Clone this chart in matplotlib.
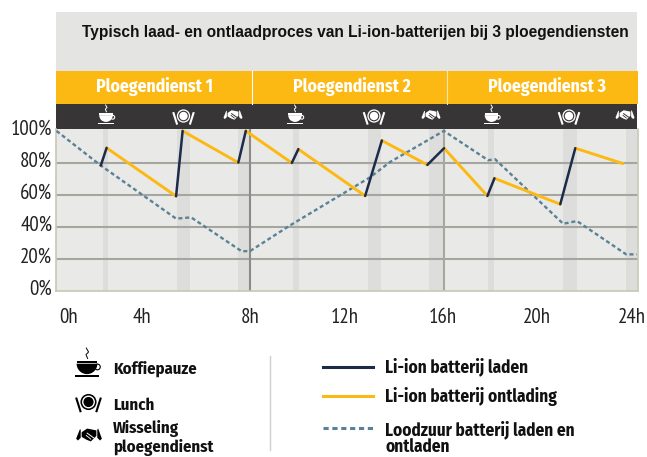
import matplotlib
matplotlib.use("Agg")
import matplotlib.pyplot as plt
from matplotlib.patches import Rectangle, Circle, Polygon, Wedge
from matplotlib.transforms import ScaledTranslation

NARROW = ['PT Sans Narrow', 'Archivo Narrow', 'Liberation Sans', 'DejaVu Sans']
COND_B = ['Fira Sans Condensed', 'Asap Condensed', 'Liberation Sans', 'DejaVu Sans']
W, H = 647, 457

title = "Typisch laad- en ontlaadproces van Li-ion-batterijen bij 3 ploegendiensten"
shifts = ["Ploegendienst 1", "Ploegendienst 2", "Ploegendienst 3"]
y_ticks = [0, 20, 40, 60, 80, 100]
y_labels = ["0%", "20%", "40%", "60%", "80%", "100%"]
x_label_pos = [0.48, 3.53, 8, 11.92, 15.97, 19.85, 23.78]
x_labels = ["0h", "4h", "8h", "12h", "16h", "20h", "24h"]

charge_t = [(1.83, 2.07), (4.94, 5.21), (7.51, 7.82), (9.72, 9.99), (12.75, 13.44), (15.32, 16.01), (17.80, 18.09), (20.81, 21.43)]
charge_v = [(78.4, 89.4), (59.2, 100), (80.2, 100), (80, 88.6), (59.4, 94), (78.8, 89.2), (59.4, 70.4), (54.2, 89.2)]
disch_t = [(2.07, 4.94), (5.21, 7.51), (7.82, 9.72), (9.99, 12.75), (13.44, 15.32), (16.01, 17.80), (18.09, 20.81), (21.43, 23.40)]
disch_v = [(89.4, 59.2), (100, 80.2), (100, 80), (88.6, 59.4), (94, 78.8), (89.2, 59.4), (70.4, 54.2), (89.2, 79.6)]
lead_t = [0, 1.83, 4.94, 5.56, 7.65, 8.0, 9.65, 12.95, 13.78, 16.0, 17.83, 18.12, 20.93, 21.5, 23.53, 23.97]
lead_v = [100, 78.4, 45.2, 46, 24.8, 25, 41, 71, 80.6, 100, 81.7, 82.3, 42, 43.7, 22.9, 22.9]

breaks = [(1.91, 2.14), (4.99, 5.52), (7.51, 8.0), (9.79, 10.02), (12.88, 13.4), (15.4, 16.0), (17.84, 18.09), (20.94, 21.5), (23.52, 23.97)]
break_kinds = ["coffee", "lunch", "hands"] * 3
icon_pos = [(106, 116), (183.5, 116), (233, 115), (295, 116), (374, 116), (431, 115), (491.5, 116), (569, 116), (625, 115)]

NAVY, YEL, LEAD = "#1C2B4A", "#FDB913", "#5B8196"
BAND = "#373536"

fig = plt.figure(figsize=(W / 100, H / 100), dpi=100, facecolor="white")

ov = fig.add_axes([0, 0, 1, 1], zorder=1)
ov.set_xlim(0, W); ov.set_ylim(H, 0); ov.axis("off")


def rect(x0, y0, x1, y1, c, **k):
    ov.add_patch(Rectangle((x0, y0), x1 - x0, y1 - y0, fc=c, ec="none", **k))


def coffee(cx, cy, c, bg, s=1.0):
    ov.add_patch(Wedge((cx, cy - 1 * s), 8 * s, 0, 180, fc=c, ec="none"))
    rect(cx - 8 * s, cy - 3 * s, cx + 8 * s, cy - 1.6 * s, c)
    rect(cx - 9 * s, cy + 8 * s, cx + 9 * s, cy + 9.3 * s, c)
    ov.add_patch(Circle((cx + 8 * s, cy + 1.5 * s), 2.2 * s, fc="none", ec=c, lw=0.8))
    ov.plot([cx - 0.5 * s, cx + 1.2 * s, cx - 0.8 * s, cx + 0.5 * s],
            [cy - 13 * s, cy - 10 * s, cy - 8 * s, cy - 5 * s], color=c, lw=0.7)


def lunch(cx, cy, c, bg, s=1.0):
    ov.add_patch(Circle((cx, cy), 7 * s, fc=c, ec="none"))
    ov.add_patch(Circle((cx, cy), 5.6 * s, fc=bg, ec="none"))
    ov.add_patch(Circle((cx, cy), 4.4 * s, fc=c, ec="none"))
    ov.plot([cx - 10.5 * s, cx - 7 * s], [cy - 3 * s, cy + 8 * s], color=c, lw=1.5)
    ov.plot([cx + 10.5 * s, cx + 7 * s], [cy - 3 * s, cy + 8 * s], color=c, lw=1.5)


def hands(cx, cy, c, bg, s=1.0):
    ov.add_patch(Polygon([(cx - 8 * s, cy - 3 * s), (cx - 2 * s, cy - 7 * s), (cx + 3 * s, cy - 6 * s),
                          (cx + 8 * s, cy - 5 * s), (cx + 8 * s, cy + 1 * s), (cx + 2 * s, cy + 7 * s),
                          (cx - 3 * s, cy + 5 * s), (cx - 8 * s, cy + 2 * s)], fc=c, ec="none"))
    ov.plot([cx - 2 * s, cx + 5 * s], [cy - 2 * s, cy + 3 * s], color=bg, lw=0.7)
    ov.plot([cx - 3 * s, cx + 2 * s], [cy + 0.5 * s, cy + 4.5 * s], color=bg, lw=0.6)
    ov.add_patch(Polygon([(cx - 14 * s, cy + 4 * s), (cx - 10 * s, cy - 6 * s), (cx - 9 * s, cy - 6 * s),
                          (cx - 9 * s, cy + 3 * s), (cx - 12 * s, cy + 6 * s)], fc=c, ec="none"))
    ov.add_patch(Polygon([(cx + 14 * s, cy + 4 * s), (cx + 10 * s, cy - 7 * s), (cx + 9 * s, cy - 6 * s),
                          (cx + 9 * s, cy + 3 * s), (cx + 12 * s, cy + 6 * s)], fc=c, ec="none"))


DRAW = {"coffee": coffee, "lunch": lunch, "hands": hands}
ICON_S = {"coffee": 0.85, "lunch": 0.95, "hands": 0.68}

rect(56, 12, 637, 71, "#E4E4E2")
rect(56, 71, 638, 104, YEL)
rect(56, 104, 637, 129, BAND)
ov.plot([251.5, 251.5], [71, 104], color="white", lw=0.8)
ov.plot([446.5, 446.5], [71, 104], color="#F5E6B8", lw=0.8)
ov.text(355.5, 32, title, ha="center", va="center", fontsize=11.2, fontweight="bold",
        family=['Liberation Sans'], color="#111111")
for t, xc in zip(shifts, [155, 352, 547]):
    ov.text(xc, 86, t, ha="center", va="center", fontsize=12.7, fontweight="bold", family=COND_B, color="white")
for k, (x, y) in zip(break_kinds, icon_pos):
    DRAW[k](x, y, "white", BAND, ICON_S[k])

ax = fig.add_axes([56.5 / W, 1 - 291 / H, 581 / W, 162 / H], zorder=2)
ax.set_xlim(0, 24.0)
ax.set_ylim(0, 101.2)
ax.set_facecolor("#E9E9E7")
for b in breaks:
    ax.axvspan(b[0], b[1], color="#DDDDDB", lw=0, zorder=1)
for v in y_ticks[1:5]:
    ax.axhline(v, color="#A6A6A0", lw=1.5, zorder=2)
ax.axvline(8, color="#8C8C82", lw=1.5, zorder=2)
ax.axvline(16, color="#A8A79F", lw=1.5, zorder=2)
ax.plot(lead_t, lead_v, color=LEAD, lw=1.7, dashes=(1.7, 1.2), zorder=3)
for t, v in zip(disch_t, disch_v):
    ax.plot(t, v, color=YEL, lw=2.1, solid_capstyle="round", zorder=4)
for t, v in zip(charge_t, charge_v):
    ax.plot(t, v, color=NAVY, lw=1.8, solid_capstyle="round", zorder=5)
ax.spines["top"].set_visible(False)
for s in ["left", "bottom", "right"]:
    ax.spines[s].set_color("#C9C7B4")
    ax.spines[s].set_linewidth(1.2)
ax.set_yticks(y_ticks, y_labels, family=NARROW, fontsize=15, color="#222222")
ax.set_xticks(x_label_pos, x_labels, family=NARROW, fontsize=15, color="#222222")
ax.tick_params(length=0, axis="y", pad=3)
ax.tick_params(length=0, axis="x", pad=12)
shift_up = ScaledTranslation(0, 4 / 100, fig.dpi_scale_trans)
for lab in ax.get_yticklabels():
    lab.set_transform(lab.get_transform() + shift_up)

coffee(87, 365, "black", "white", 1.3)
lunch(88.5, 402, "black", "white", 1.15)
hands(89, 435, "black", "white", 0.92)
for txt, x, y in [("Koffiepauze", 113, 369), ("Lunch", 113, 405), ("Wisseling", 113, 428.5), ("ploegendienst", 113, 447)]:
    ov.text(x, y, txt, ha="left", va="center", fontsize=12, fontweight="bold", family=COND_B, color="#111111")
ov.plot([270, 270], [356, 450], color="#CFCFCF", lw=1.0)
for c, y, ls in [(NAVY, 367, "-"), (YEL, 396, "-"), (LEAD, 428, (0, (1.7, 1.2)))]:
    ov.plot([323, 373], [y, y], color=c, lw=2.2, ls=ls)
for txt, y in [("Li-ion batterij laden", 367), ("Li-ion batterij ontlading", 397), ("Loodzuur batterij laden en", 430), ("ontladen", 447)]:
    ov.text(385, y, txt, ha="left", va="center", fontsize=12.4, fontweight="bold", family=COND_B, color="#111111")

fig.savefig("out.png", dpi=100)
